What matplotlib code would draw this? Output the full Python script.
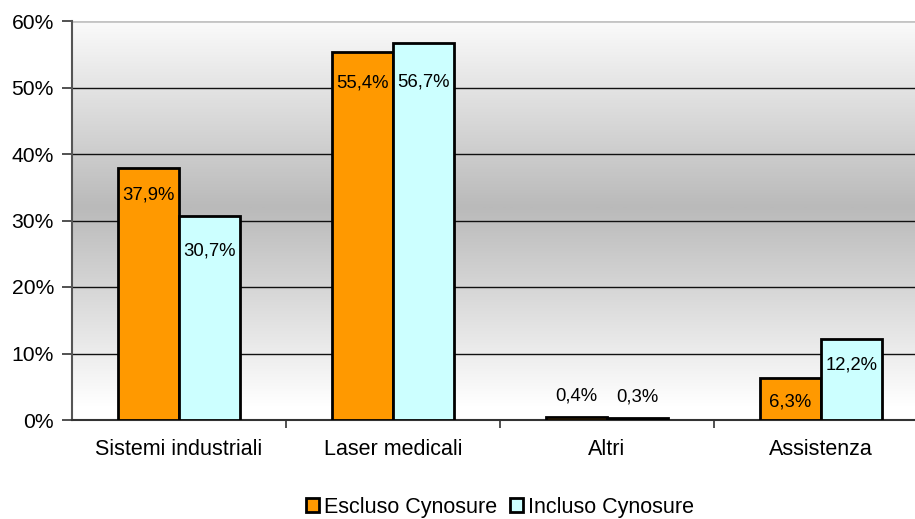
import numpy as np
import matplotlib.pyplot as plt
from matplotlib.colors import LinearSegmentedColormap

categories = ['Sistemi industriali', 'Laser medicali', 'Altri', 'Assistenza']
escluso = [37.9, 55.4, 0.4, 6.3]
incluso = [30.7, 56.7, 0.3, 12.2]
series_names = ['Escluso Cynosure', 'Incluso Cynosure']
yticks = [0, 10, 20, 30, 40, 50, 60]

plt.rcParams['font.family'] = ['Liberation Sans', 'DejaVu Sans']

fig = plt.figure(figsize=(9.15, 5.19), dpi=100)
ax = fig.add_axes([72 / 915, 1 - 420 / 519, (928 - 72) / 915, 399 / 519])

# background gradient: white at top and bottom, gray in the middle
grad = np.abs(np.linspace(0, 60, 300) - 32)[:, None] / 30
cmap = LinearSegmentedColormap.from_list('bg', ['#bababa', '#ffffff'])
ax.imshow(grad, cmap=cmap, vmin=0, vmax=1, extent=[-0.5, 3.5, 0, 60],
          origin='lower', aspect='auto', zorder=0, interpolation='bilinear')

for v in yticks[1:-1]:
    ax.axhline(v, color='#111111', lw=1.0, zorder=1)
ax.axhline(60, color='#c4c4c4', lw=2, zorder=1)

x = np.arange(len(categories))
w = 0.285
b1 = ax.bar(x - w / 2, escluso, w, color='#FF9900', edgecolor='black', lw=2, zorder=3,
            label=series_names[0])
b2 = ax.bar(x + w / 2, incluso, w, color='#CCFFFF', edgecolor='black', lw=2, zorder=3,
            label=series_names[1])

# label offsets in pixels (negative = inside bar)
off1 = [-27, -31, 21, -24]
off2 = [-35, -39, 21, -26]
for bars, vals, offs in [(b1, escluso, off1), (b2, incluso, off2)]:
    for r, v, o in zip(bars, vals, offs):
        ax.annotate(f'{v:.1f}%'.replace('.', ','), (r.get_x() + r.get_width() / 2, v),
                    xytext=(0, o * 0.72), textcoords='offset points',
                    ha='center', va='center', fontsize=13.3, zorder=4)

ax.set_xlim(-0.5, 3.5)
ax.set_ylim(0, 60)
ax.set_yticks(yticks)
ax.set_yticklabels([f'{v}%' for v in yticks], fontsize=15.2)
ax.set_xticks(x)
ax.set_xticklabels(categories, fontsize=15.5)
ax.set_xticks([0.5, 1.5, 2.5], minor=True)
ax.tick_params(axis='x', which='major', length=0, pad=14)
ax.tick_params(axis='x', which='minor', length=6, width=1.2, color='#333333', direction='out')
ax.tick_params(axis='y', length=7, width=1.2, color='#333333', pad=6)

for s in ['top', 'right']:
    ax.spines[s].set_visible(False)
ax.spines['left'].set_color('#555555')
ax.spines['left'].set_linewidth(1.5)
ax.spines['bottom'].set_color('#333333')
ax.spines['bottom'].set_linewidth(1.5)

fig.legend(handles=[b1, b2], loc='center', bbox_to_anchor=(500 / 915, 1 - 507 / 519),
           ncol=2, frameon=False, fontsize=15.5, handlelength=0.6, handleheight=0.6,
           handletextpad=0.25, columnspacing=0.6, borderaxespad=0)

fig.savefig('out.png', dpi=100)
